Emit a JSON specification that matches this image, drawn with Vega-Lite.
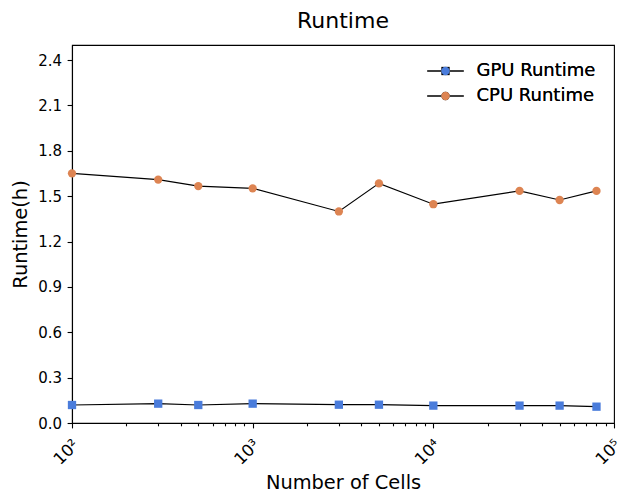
{
  "$schema": "https://vega.github.io/schema/vega-lite/v6.json",
  "width": 542,
  "height": 378,
  "autosize": {"type": "none"},
  "padding": {"left": 72, "top": 45, "right": 26, "bottom": 79},
  "background": "white",
  "title": {"text": "Runtime", "fontSize": 22, "font": "DejaVu Sans", "fontWeight": "normal", "color": "black", "offset": -5, "baseline": "alphabetic", "anchor": "middle", "frame": "group"},
  "data": {"values": [
    {"cells": 100, "runtime": 0.119, "series": "GPU Runtime"},
    {"cells": 300, "runtime": 0.128, "series": "GPU Runtime"},
    {"cells": 500, "runtime": 0.119, "series": "GPU Runtime"},
    {"cells": 1000, "runtime": 0.128, "series": "GPU Runtime"},
    {"cells": 3000, "runtime": 0.121, "series": "GPU Runtime"},
    {"cells": 5000, "runtime": 0.121, "series": "GPU Runtime"},
    {"cells": 10000, "runtime": 0.115, "series": "GPU Runtime"},
    {"cells": 30000, "runtime": 0.115, "series": "GPU Runtime"},
    {"cells": 50000, "runtime": 0.115, "series": "GPU Runtime"},
    {"cells": 80000, "runtime": 0.108, "series": "GPU Runtime"},
    {"cells": 100, "runtime": 1.651, "series": "CPU Runtime"},
    {"cells": 300, "runtime": 1.610, "series": "CPU Runtime"},
    {"cells": 500, "runtime": 1.567, "series": "CPU Runtime"},
    {"cells": 1000, "runtime": 1.552, "series": "CPU Runtime"},
    {"cells": 3000, "runtime": 1.399, "series": "CPU Runtime"},
    {"cells": 5000, "runtime": 1.585, "series": "CPU Runtime"},
    {"cells": 10000, "runtime": 1.447, "series": "CPU Runtime"},
    {"cells": 30000, "runtime": 1.535, "series": "CPU Runtime"},
    {"cells": 50000, "runtime": 1.475, "series": "CPU Runtime"},
    {"cells": 80000, "runtime": 1.535, "series": "CPU Runtime"}
  ]},
  "encoding": {
    "x": {
      "field": "cells", "type": "quantitative",
      "scale": {"type": "log", "domain": [100, 100000], "nice": false},
      "axis": {
        "title": "Number of Cells",
        "values": [100, 200, 300, 400, 500, 600, 700, 800, 900, 1000, 2000, 3000, 4000, 5000, 6000, 7000, 8000, 9000, 10000, 20000, 30000, 40000, 50000, 60000, 70000, 80000, 90000, 100000],
        "labelExpr": "datum.value == 100 ? '10²' : datum.value == 1000 ? '10³' : datum.value == 10000 ? '10⁴' : datum.value == 100000 ? '10⁵' : ''",
        "labelAngle": -45,
        "labelAlign": "center",
        "labelBaseline": "middle",
        "labelPadding": 24,
        "labelOffset": -6,
        "labelOverlap": false,
        "labelFlush": false,
        "labelBound": false,
        "labelFontSize": 16.5,
        "tickSize": {"condition": {"test": "indexof([100,1000,10000,100000], datum.value) < 0", "value": 2.8}, "value": 4.9},
        "titleFontSize": 19.4,
        "titlePadding": 6
      }
    },
    "y": {
      "field": "runtime", "type": "quantitative",
      "scale": {"domain": [0, 2.5], "nice": false, "zero": false},
      "axis": {
        "title": "Runtime(h)",
        "values": [0, 0.3, 0.6, 0.9, 1.2, 1.5, 1.8, 2.1, 2.4],
        "format": ".1f",
        "labelFontSize": 15,
        "labelPadding": 5.5,
        "tickSize": 4.9,
        "titleFontSize": 19.4,
        "titlePadding": 11,
        "titleBaseline": "alphabetic"
      }
    }
  },
  "layer": [
    {
      "mark": {"type": "line", "strokeWidth": 1.2},
      "encoding": {
        "color": {
          "field": "series", "type": "nominal",
          "scale": {"domain": ["GPU Runtime", "CPU Runtime"], "range": ["black", "black"]},
          "legend": {"orient": "none", "legendX": 364.5, "legendY": 17, "title": null, "padding": 0, "zindex": 0,
            "symbolType": "M-4,0H-0.95M0.95,0H4", "symbolSize": 84, "symbolStrokeWidth": 1.3,
            "labelOffset": 22, "labelFontSize": 18, "labelOpacity": 0, "rowPadding": 7}
        }
      }
    },
    {
      "mark": {"type": "point", "filled": true, "size": 69, "opacity": 1, "strokeWidth": 0},
      "encoding": {
        "color": {
          "field": "series", "type": "nominal",
          "scale": {"domain": ["GPU Runtime", "CPU Runtime"], "range": ["#4A7CDB", "#DD8452"]},
          "legend": {"orient": "none", "legendX": 364.5, "legendY": 17, "title": null, "padding": 0, "zindex": 2,
            "symbolSize": 69, "symbolOpacity": 1, "symbolStrokeWidth": 0, "symbolStrokeColor": "transparent",
            "labelOffset": 22, "labelFontSize": 18, "labelColor": "black", "rowPadding": 7}
        },
        "shape": {
          "field": "series", "type": "nominal",
          "scale": {"domain": ["GPU Runtime", "CPU Runtime"], "range": ["square", "circle"]},
          "legend": {"orient": "none", "legendX": 364.5, "legendY": 17, "title": null, "padding": 0, "zindex": 2,
            "symbolSize": 69, "symbolOpacity": 1, "symbolStrokeWidth": 0, "symbolStrokeColor": "transparent",
            "labelOffset": 22, "labelFontSize": 18, "labelColor": "black", "rowPadding": 7}
        }
      }
    }
  ],
  "resolve": {"scale": {"color": "independent"}, "legend": {"color": "independent"}},
  "config": {
    "view": {"stroke": "black", "strokeWidth": 1.1},
    "axis": {
      "grid": false,
      "domainColor": "black", "domainWidth": 1.1,
      "tickColor": "black", "tickWidth": 1.1,
      "labelColor": "black", "titleColor": "black",
      "labelFont": "DejaVu Sans", "titleFont": "DejaVu Sans",
      "titleFontWeight": "normal"
    },
    "legend": {"labelFont": "DejaVu Sans"}
  }
}
